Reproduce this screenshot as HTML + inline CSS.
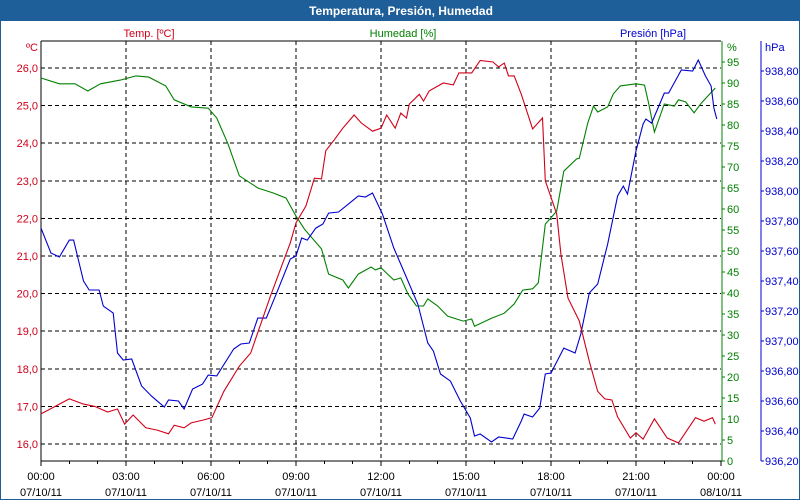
<!DOCTYPE html>
<html><head><meta charset="utf-8"><style>
html,body{margin:0;padding:0;background:#fff}
#wrap{position:relative;width:800px;height:500px;box-sizing:border-box;border:1px solid #1f5f99;overflow:hidden;font-family:"Liberation Sans",sans-serif}
#hdr{position:absolute;left:0;top:0;width:800px;height:20px;background:#1f5f99;color:#fff;font-weight:bold;font-size:12px;text-align:center;line-height:20px}
svg{position:absolute;left:0;top:0}
</style></head><body>
<div id="wrap">
<div id="hdr">Temperatura, Presión, Humedad</div>
<svg id="chart" width="800" height="500"></svg>
</div>
<script>
const tempHours=[0,1,1.5,1.9,2.35,2.7,2.95,3.25,3.7,4.1,4.5,4.7,5.05,5.3,5.75,6.03,6.45,7,7.4,8.1,8.8,9,9.35,9.65,9.9,10.05,10.35,10.65,11.05,11.3,11.7,12,12.2,12.5,12.7,12.9,13,13.35,13.5,13.7,14.2,14.55,14.75,15.2,15.5,15.95,16.15,16.35,16.5,16.7,16.95,17.35,17.7,17.8,18.2,18.35,18.6,19,19.35,19.65,19.9,20.15,20.35,20.8,21,21.25,21.65,22.1,22.5,23.1,23.4,23.7,23.8];
const tempValues=[16.8,17.2,17.06,17,16.85,16.93,16.53,16.77,16.43,16.37,16.27,16.5,16.43,16.56,16.64,16.7,17.4,18.07,18.42,19.94,21.35,21.88,22.33,23.07,23.05,23.8,24.09,24.4,24.75,24.54,24.32,24.4,24.75,24.4,24.8,24.67,25.04,25.3,25.12,25.39,25.6,25.55,25.87,25.87,26.2,26.16,26.03,26.13,25.79,25.79,25.3,24.38,24.67,23.0,22.12,21.05,19.88,19.27,18.2,17.4,17.2,17.17,16.72,16.16,16.3,16.13,16.67,16.16,16.03,16.7,16.61,16.7,16.53];
const humHours=[0,0.65,1.2,1.65,2.1,2.8,3.35,3.8,4.4,4.7,5.3,5.9,6.2,6.6,7,7.65,8.2,8.65,9,9.3,9.9,10.15,10.65,10.85,11.2,11.65,11.8,12,12.45,12.7,12.95,13.25,13.5,13.65,14,14.35,14.9,15.2,15.3,15.9,16.35,16.7,17,17.35,17.55,17.8,18.2,18.45,18.9,19,19.3,19.5,19.65,20,20.2,20.45,21,21.3,21.45,21.65,22,22.35,22.5,22.75,23.05,23.3,23.8];
const humValues=[91.2,89.8,89.8,88.1,89.8,90.7,91.7,91.4,89.3,86,84.3,84,81.7,75.5,67.9,65,63.8,62.6,58.3,55.2,50.5,44.5,43.1,41.2,44.5,46.2,45.5,46,43.1,43.6,39.8,36.9,36.9,38.6,36.9,34.5,33.3,33.8,32.1,34,35.2,37.4,40.7,41,42.4,56.4,59.5,69,71.9,72.1,80.5,84.5,83.1,84.3,87.4,89.3,89.8,89.5,85,78.3,85,84.5,86,85.5,82.9,85.2,88.8];
const presHours=[0,0.35,0.65,1,1.15,1.5,1.7,2.05,2.2,2.55,2.7,2.9,3.2,3.55,3.9,4.35,4.5,4.85,5.05,5.35,5.7,5.9,6.2,6.8,7.05,7.35,7.65,7.95,8.3,8.8,9,9.2,9.4,9.7,9.95,10.15,10.5,10.85,11.2,11.45,11.7,12.05,12.45,12.8,13.3,13.65,13.85,14.1,14.45,14.8,15.15,15.3,15.5,15.9,16.15,16.65,16.95,17.05,17.35,17.6,17.8,18,18.45,18.85,19.05,19.35,19.65,20,20.35,20.55,20.7,21,21.25,21.35,21.55,22,22.15,22.6,23,23.2,23.45,23.65,23.75,23.85];
const presValues=[937.753,937.587,937.56,937.673,937.673,937.4,937.34,937.34,937.233,937.187,936.92,936.873,936.88,936.7,936.633,936.56,936.607,936.6,936.547,936.68,936.713,936.773,936.767,936.947,936.98,936.987,937.153,937.153,937.313,937.547,937.567,937.687,937.673,937.753,937.78,937.853,937.86,937.913,937.967,937.96,937.987,937.847,937.62,937.467,937.247,936.987,936.933,936.78,936.733,936.6,936.487,936.367,936.38,936.327,936.36,936.347,936.467,936.513,936.493,936.553,936.78,936.787,936.953,936.92,937.047,937.32,937.38,937.647,937.967,938.033,937.98,938.267,938.447,938.48,938.453,938.653,938.653,938.807,938.8,938.873,938.767,938.7,938.553,938.48];
const tempTicks=[16,17,18,19,20,21,22,23,24,25,26];
const humTicks=[0,5,10,15,20,25,30,35,40,45,50,55,60,65,70,75,80,85,90,95];
const presTicks=[936.2,936.4,936.6,936.8,937.0,937.2,937.4,937.6,937.8,938.0,938.2,938.4,938.6,938.8];
const timeLabels=["00:00","03:00","06:00","09:00","12:00","15:00","18:00","21:00","00:00"];
const dateLabels=["07/10/11","07/10/11","07/10/11","07/10/11","07/10/11","07/10/11","07/10/11","07/10/11","08/10/11"];

const L=40,R=720,T=40,B=460;
const xS=h=>L+h*(R-L)/24;
const yT=v=>67+(26-v)*37.6;
const yH=v=>B-v*4.2;
const yP=v=>B-(v-936.2)*150;
const svg=document.getElementById('chart');
const NS='http://www.w3.org/2000/svg';
function mk(tag,attrs,txt){const e=document.createElementNS(NS,tag);for(const k in attrs)e.setAttribute(k,attrs[k]);if(txt!==undefined)e.textContent=txt;svg.appendChild(e);return e;}
const RED='#d0001a',GRN='#008000',BLU='#0000d0';

// grid
tempTicks.forEach(v=>{const e=mk('line',{x1:L,x2:R,y1:yT(v),y2:yT(v),stroke:'#000','stroke-dasharray':'4,3','stroke-width':1,'shape-rendering':'crispEdges'});

});
timeLabels.forEach((t,i)=>{if(i==0||i==8)return;const x=xS(i*3);const e=mk('line',{x1:x,x2:x,y1:T,y2:B,stroke:'#000','stroke-dasharray':'4,3','shape-rendering':'crispEdges'});

});
// axes
let a=mk('line',{x1:L,x2:R,y1:T,y2:T,stroke:'#000','shape-rendering':'crispEdges'});
a=mk('line',{x1:L,x2:L,y1:T,y2:B,stroke:'#000','shape-rendering':'crispEdges'});
a=mk('line',{x1:L,x2:R+1,y1:B,y2:B,stroke:'#000','shape-rendering':'crispEdges'});
a=mk('line',{x1:R+1,x2:R+1,y1:T,y2:B,stroke:GRN,'shape-rendering':'crispEdges'});
a=mk('line',{x1:760,x2:760,y1:T,y2:B,stroke:BLU,'shape-rendering':'crispEdges'});
for(let h=0;h<=24;h++){const x=xS(h);const e=mk('line',{x1:x,x2:x,y1:B,y2:B+(h%3==0?5:3),stroke:'#000','shape-rendering':'crispEdges'});

}
// tick labels
tempTicks.forEach(v=>{const e=mk('text',{x:37,y:yT(v)+4,'text-anchor':'end','font-size':11,fill:RED},v.toFixed(1).replace('.',','));

});
humTicks.forEach(v=>{const t=mk('line',{x1:R+1,x2:R+4,y1:yH(v),y2:yH(v),stroke:GRN,'shape-rendering':'crispEdges'});


const e=mk('text',{x:726,y:yH(v)+4,'font-size':11,fill:GRN},String(v));

});
presTicks.forEach(v=>{const t=mk('line',{x1:760,x2:763,y1:yP(v),y2:yP(v),stroke:BLU,'shape-rendering':'crispEdges'});


const e=mk('text',{x:764,y:yP(v)+4,'font-size':11,fill:BLU},v.toFixed(2).replace('.',','));

});
timeLabels.forEach((t,i)=>{const x=xS(i*3);
const e=mk('text',{x:x,y:479,'text-anchor':'middle','font-size':11,fill:'#000'},t);


const d=mk('text',{x:x,y:495,'text-anchor':'middle','font-size':11,fill:'#000'},dateLabels[i]);

});
// titles
let tt=mk('text',{x:148,y:36,'text-anchor':'middle','font-size':11,fill:RED},'Temp. [ºC]');
tt=mk('text',{x:402,y:36,'text-anchor':'middle','font-size':11,fill:GRN},'Humedad [%]');
tt=mk('text',{x:652,y:36,'text-anchor':'middle','font-size':11,fill:BLU},'Presión [hPa]');
tt=mk('text',{x:37,y:50,'text-anchor':'end','font-size':11,fill:RED},'ºC');
tt=mk('text',{x:726,y:50,'font-size':11,fill:GRN},'%');
tt=mk('text',{x:764,y:50,'font-size':11,fill:BLU},'hPa');
// series
function line(hs,vs,yf,col,name){const pts=hs.map((h,i)=>xS(h).toFixed(1)+','+yf(vs[i]).toFixed(1)).join(' ');
const e=mk('polyline',{points:pts,fill:'none',stroke:col,'stroke-width':1.1});

}
line(humHours,humValues,yH,GRN,'humidity-line');
line(presHours,presValues,yP,BLU,'pressure-line');
line(tempHours,tempValues,yT,RED,'temperature-line');
</script>
</body></html>
